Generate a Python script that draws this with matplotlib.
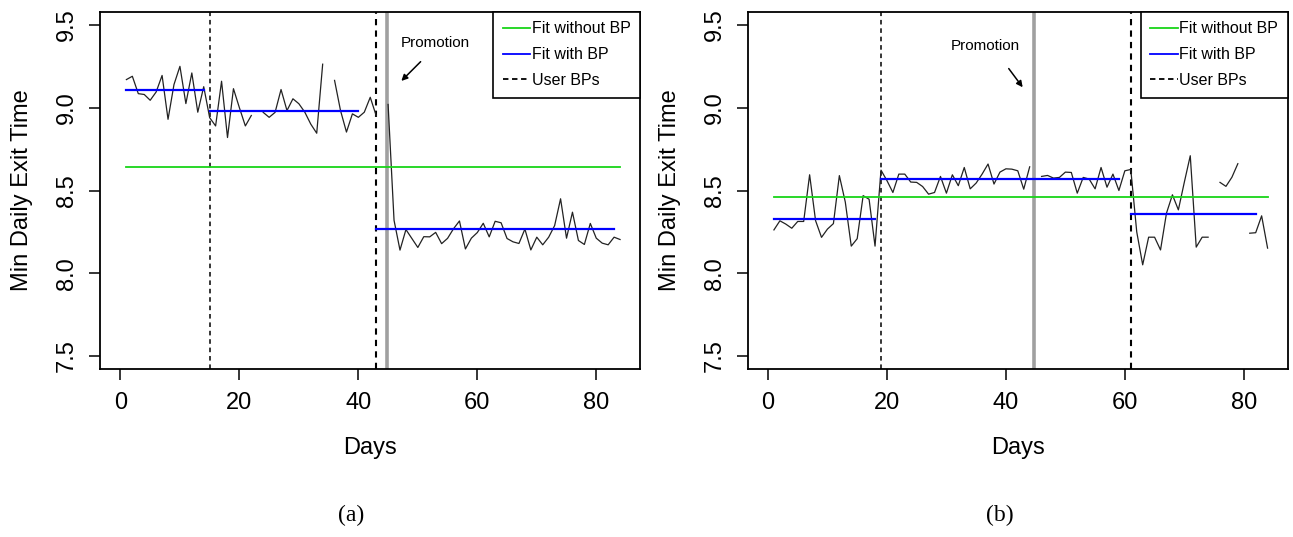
import numpy as np
import matplotlib
matplotlib.use("Agg")
import matplotlib.pyplot as plt

plt.rcParams['font.family'] = ['Liberation Sans', 'DejaVu Sans']

nan = np.nan
days = np.arange(1, 85)

# panel (a) - min daily exit time
exit_a = [9.17, 9.19, 9.085, 9.08, 9.045, 9.095, 9.195, 8.93, 9.14, 9.25,
          9.025, 9.21, 8.973, 9.127, 8.94, 8.89, 9.16, 8.82, 9.115, 9.0,
          8.89, 8.953, nan, 8.972, 8.942, 8.972, 9.11, 8.983, 9.054, 9.024,
          8.973, 8.901, 8.846, 9.263, nan, 9.165, 8.983, 8.853, 8.963, 8.942,
          8.973, 9.063, 8.952, nan, 9.02, 8.32, 8.14, 8.264, 8.21, 8.156,
          8.221, 8.22, 8.247, 8.179, 8.211, 8.269, 8.316, 8.147, 8.212, 8.246,
          8.302, 8.22, 8.314, 8.305, 8.21, 8.19, 8.18, 8.267, 8.141, 8.218,
          8.172, 8.218, 8.288, 8.45, 8.212, 8.369, 8.198, 8.174, 8.301, 8.212,
          8.182, 8.172, 8.218, 8.204]
fit_no_bp_a = 8.641
fit_bp_a = [(1, 14, 9.110), (15, 40, 8.983), (43, 83, 8.268)]
user_bps_a = [15, 43]

# panel (b)
exit_b = [8.262, 8.317, 8.297, 8.272, 8.313, 8.313, 8.595, 8.318, 8.217, 8.267,
          8.30, 8.59, 8.43, 8.164, 8.209, 8.469, 8.447, 8.164, 8.623, 8.56,
          8.488, 8.599, 8.599, 8.551, 8.549, 8.524, 8.478, 8.488, 8.585, 8.484,
          8.595, 8.529, 8.639, 8.51, 8.545, 8.599, 8.66, 8.539, 8.611, 8.631,
          8.629, 8.619, 8.508, 8.643, nan, 8.585, 8.591, 8.575, 8.579, 8.611,
          8.609, 8.484, 8.579, 8.569, 8.51, 8.639, 8.52, 8.599, 8.50, 8.619,
          8.627, 8.25, 8.051, 8.218, 8.218, 8.141, 8.363, 8.474, 8.383, 8.55,
          8.71, 8.158, 8.218, 8.218, nan, 8.549, 8.525, 8.58, 8.662, nan,
          8.242, 8.245, 8.347, 8.152]
fit_no_bp_b = 8.458
fit_bp_b = [(1, 18, 8.329), (19, 59, 8.571), (61, 82, 8.357)]
user_bps_b = [19, 61]

promotion_day = 44.8
xticks = [0, 20, 40, 60, 80]
yticks = [7.5, 8.0, 8.5, 9.0, 9.5]


def draw_panel(ax, values, fit_no_bp, fit_bp, user_bps, text_xy, arrow_from, arrow_to):
    ax.axvline(promotion_day, color='#a0a0a0', lw=2.6, zorder=1)
    for i, bp in enumerate(user_bps):
        ax.axvline(bp, color='black', lw=1.1 if i == 0 else 1.5,
                   ls=(0, (3, 2.5)), zorder=2)
    ax.plot(days, values, color='#222222', lw=0.9, zorder=3)
    ax.plot([days[0], days[-1]], [fit_no_bp, fit_no_bp], color='#18d418', lw=1.3, zorder=4)
    for start, end, level in fit_bp:
        ax.plot([start, end], [level, level], color='#0000ff', lw=1.6, zorder=4)

    ax.annotate('', xy=arrow_to, xytext=arrow_from,
                arrowprops=dict(arrowstyle='-|>', color='black', lw=1.1, mutation_scale=9))
    ax.text(text_xy[0], text_xy[1], 'Promotion', fontsize=11, ha='center', va='center')

    h1, = ax.plot([], [], color='#18d418', lw=1.3)
    h2, = ax.plot([], [], color='#0000ff', lw=1.3)
    h3, = ax.plot([], [], color='black', lw=1.3, ls=(0, (3, 2)))
    leg = ax.legend([h1, h2, h3], ['Fit without BP', 'Fit with BP', 'User BPs'],
                    loc='upper right', borderaxespad=0, fontsize=11.5, fancybox=False,
                    framealpha=1, edgecolor='black', handlelength=1.7,
                    handletextpad=0.1, labelspacing=0.68, borderpad=0.6)
    leg.get_frame().set_linewidth(1.2)

    ax.set_xlim(-3.36, 87.36)
    ax.set_ylim(7.42, 9.58)
    ax.set_xticks(xticks)
    ax.set_xticklabels([str(t) for t in xticks])
    ax.set_yticks(yticks)
    ax.set_yticklabels(['%.1f' % t for t in yticks], rotation=90, va='center')
    ax.tick_params(direction='out', length=8, width=1.1, labelsize=17, pad=8)
    for s in ax.spines.values():
        s.set_linewidth(1.3)
    ax.set_xlabel('Days', fontsize=17)
    ax.set_ylabel('Min Daily Exit Time', fontsize=17)
    ax.xaxis.set_label_coords(0.5, -0.19)
    ax.yaxis.set_label_coords(-0.125, 0.5)


fig = plt.figure(figsize=(12.93, 5.37), dpi=100)
ax_a = fig.add_axes([0.0777, 0.3123, 0.4173, 0.6659])
ax_b = fig.add_axes([0.5785, 0.3123, 0.4173, 0.6659])

draw_panel(ax_a, exit_a, fit_no_bp_a, fit_bp_a, user_bps_a,
           (52.9, 9.39), (50.8, 9.29), (46.9, 9.15))
draw_panel(ax_b, exit_b, fit_no_bp_b, fit_bp_b, user_bps_b,
           (36.6, 9.37), (40.2, 9.25), (43.1, 9.11))

fig.text(0.2715, 0.041, '(a)', fontsize=17, ha='center', va='center',
         family=['Liberation Serif', 'DejaVu Serif'])
fig.text(0.7734, 0.041, '(b)', fontsize=17, ha='center', va='center',
         family=['Liberation Serif', 'DejaVu Serif'])

fig.savefig('out.png', dpi=100)
